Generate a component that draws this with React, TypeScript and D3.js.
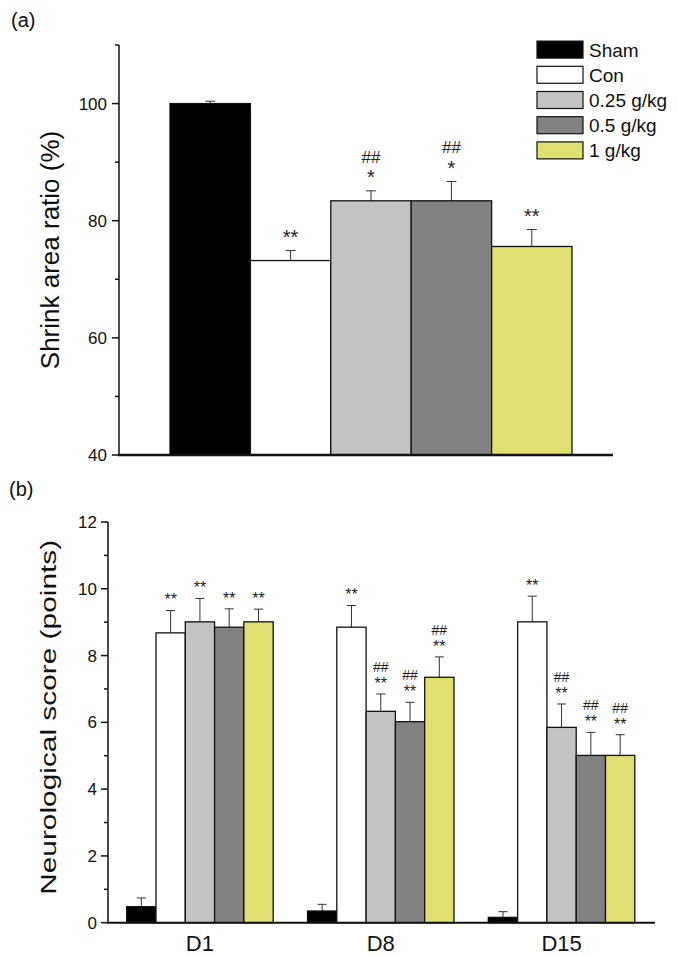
import React from "react";
import * as d3 from "d3";

const groups = ["Sham", "Con", "0.25 g/kg", "0.5 g/kg", "1 g/kg"];
const colors = ["#000000", "#ffffff", "#c3c3c3", "#828282", "#dfdf72"];

// Panel (a)
const shrinkMean = [100, 73.2, 83.4, 83.4, 75.6];
const shrinkErr = [0.4, 1.7, 1.7, 3.3, 2.9];
const shrinkSig = ["", "**", "*", "*", "**"];
const shrinkHash = ["", "", "##", "##", ""];
const shrinkMajor = [40, 60, 80, 100];
const shrinkMinor = [50, 70, 90, 110];

// Panel (b)
const days = ["D1", "D8", "D15"];
const neuroMean = [
  [0.48, 0.35, 0.16],
  [8.68, 8.85, 9.01],
  [9.01, 6.33, 5.85],
  [8.85, 6.02, 5.01],
  [9.01, 7.35, 5.01],
];
const neuroErr = [
  [0.26, 0.2, 0.17],
  [0.67, 0.65, 0.77],
  [0.7, 0.52, 0.7],
  [0.55, 0.58, 0.69],
  [0.38, 0.61, 0.62],
];
const neuroSig = [
  ["", "", ""],
  ["**", "**", "**"],
  ["**", "**", "**"],
  ["**", "**", "**"],
  ["**", "**", "**"],
];
const neuroHash = [
  ["", "", ""],
  ["", "", ""],
  ["", "##", "##"],
  ["", "##", "##"],
  ["", "##", "##"],
];
const neuroMajor = [0, 2, 4, 6, 8, 10, 12];
const neuroMinor = [1, 3, 5, 7, 9, 11];

const FONT = "'Liberation Sans', Arial, sans-serif";

export default function App() {
  // Panel (a) scales
  const xA = d3.scaleBand<string>().domain(groups).range([170, 572]).padding(0);
  const yA = d3.scaleLinear().domain([40, 110]).range([455, 45]);
  const axA = 119;

  // Panel (b) scales
  const xB = d3
    .scaleBand<string>()
    .domain(days)
    .range([126.7, 634.8])
    .paddingInner(0.19)
    .paddingOuter(0);
  const xBi = d3.scaleBand<string>().domain(groups).range([0, xB.bandwidth()]);
  const yB = d3.scaleLinear().domain([0, 12]).range([922.7, 522]);
  const axB = 108;

  const legendY = d3.scaleBand<string>().domain(groups).range([37, 163]);

  return (
    <svg
      width={677}
      height={956}
      style={{ position: "absolute", left: 0, top: 0, background: "#fff" }}
      fontFamily={FONT}
    >
      <rect x={0} y={0} width={677} height={956} fill="#ffffff" />
      {/* ===== Panel (a) ===== */}
      <text x={11} y={27} fontSize={20} fill="#111">(a)</text>

      {groups.map((g, i) => {
        const x = xA(g)!;
        const w = xA.bandwidth();
        const yTop = yA(shrinkMean[i]);
        const yErr = yA(shrinkMean[i] + shrinkErr[i]);
        const cx = x + w / 2;
        return (
          <g key={"a" + g}>
            <line x1={cx} x2={cx} y1={yTop} y2={yErr} stroke="#333" strokeWidth={1} />
            <line x1={cx - 5} x2={cx + 5} y1={yErr} y2={yErr} stroke="#333" strokeWidth={1} />
            <rect
              x={x}
              y={yTop}
              width={w}
              height={yA(40) - yTop}
              fill={colors[i]}
              stroke="#111"
              strokeWidth={1.3}
            />
            {shrinkSig[i] && (
              <text x={cx} y={yErr - 6.6} fontSize={20} textAnchor="middle" fill="#222">
                {shrinkSig[i]}
              </text>
            )}
            {shrinkHash[i] && (
              <text x={cx} y={yErr - 28} fontSize={17} textAnchor="middle" fill="#222">
                {shrinkHash[i]}
              </text>
            )}
          </g>
        );
      })}

      {/* axes (a) */}
      <line x1={axA} x2={axA} y1={yA(110)} y2={yA(40)} stroke="#111" strokeWidth={1.5} />
      <line x1={axA - 1} x2={613} y1={yA(40)} y2={yA(40)} stroke="#111" strokeWidth={2.5} />
      {shrinkMajor.map((t) => (
        <g key={"am" + t}>
          <line x1={axA - 7} x2={axA} y1={yA(t)} y2={yA(t)} stroke="#111" strokeWidth={1.5} />
          <text x={axA - 12} y={yA(t) + 6} fontSize={17} textAnchor="end" fill="#111">
            {t}
          </text>
        </g>
      ))}
      {shrinkMinor.map((t) => (
        <line key={"an" + t} x1={axA - 4} x2={axA} y1={yA(t)} y2={yA(t)} stroke="#111" strokeWidth={1.5} />
      ))}
      <text
        transform={`translate(59,${(yA(40) + yA(110)) / 2}) rotate(-90)`}
        fontSize={26}
        textAnchor="middle"
        fill="#111"
      >
        Shrink area ratio (%)
      </text>

      {/* legend */}
      {groups.map((g, i) => {
        const y = legendY(g)! + legendY.bandwidth() / 2;
        return (
          <g key={"lg" + g}>
            <rect x={537} y={y - 8.5} width={46} height={17} fill={colors[i]} stroke="#111" strokeWidth={1.2} />
            <text x={589} y={y + 7} fontSize={19} fill="#111">
              {g}
            </text>
          </g>
        );
      })}

      {/* ===== Panel (b) ===== */}
      <text x={9} y={496} fontSize={20} fill="#111">(b)</text>

      {days.map((d, j) =>
        groups.map((g, i) => {
          const x = xB(d)! + xBi(g)!;
          const w = xBi.bandwidth();
          const yTop = yB(neuroMean[i][j]);
          const yErr = yB(neuroMean[i][j] + neuroErr[i][j]);
          const cx = x + w / 2;
          return (
            <g key={"b" + d + g}>
              <line x1={cx} x2={cx} y1={yTop} y2={yErr} stroke="#333" strokeWidth={1} />
              <line x1={cx - 4.5} x2={cx + 4.5} y1={yErr} y2={yErr} stroke="#333" strokeWidth={1} />
              <rect
                x={x}
                y={yTop}
                width={w}
                height={yB(0) - yTop}
                fill={colors[i]}
                stroke="#111"
                strokeWidth={1.3}
              />
              {neuroSig[i][j] && (
                <text x={cx} y={yErr - 5} fontSize={16} textAnchor="middle" fill="#222">
                  {neuroSig[i][j]}
                </text>
              )}
              {neuroHash[i][j] && (
                <text x={cx} y={yErr - 22} fontSize={14} textAnchor="middle" fill="#222">
                  {neuroHash[i][j]}
                </text>
              )}
            </g>
          );
        })
      )}

      {/* axes (b) */}
      <line x1={axB} x2={axB} y1={yB(12)} y2={yB(0)} stroke="#111" strokeWidth={1.5} />
      <line x1={axB - 1} x2={655} y1={yB(0)} y2={yB(0)} stroke="#111" strokeWidth={2} />
      {neuroMajor.map((t) => (
        <g key={"bm" + t}>
          <line x1={axB - 7} x2={axB} y1={yB(t)} y2={yB(t)} stroke="#111" strokeWidth={1.5} />
          <text x={axB - 11} y={yB(t) + 6} fontSize={17} textAnchor="end" fill="#111">
            {t}
          </text>
        </g>
      ))}
      {neuroMinor.map((t) => (
        <line key={"bn" + t} x1={axB - 4} x2={axB} y1={yB(t)} y2={yB(t)} stroke="#111" strokeWidth={1.5} />
      ))}
      {days.map((d) => (
        <text
          key={"dl" + d}
          x={xB(d)! + xB.bandwidth() / 2}
          y={951}
          fontSize={22}
          textAnchor="middle"
          fill="#111"
        >
          {d}
        </text>
      ))}
      <text
        transform={`translate(56,${(yB(0) + yB(12)) / 2 - 5}) rotate(-90)`}
        fontSize={22}
        textAnchor="middle"
        textLength={355}
        lengthAdjust="spacingAndGlyphs"
        fill="#111"
      >
        Neurological score (points)
      </text>
    </svg>
  );
}
